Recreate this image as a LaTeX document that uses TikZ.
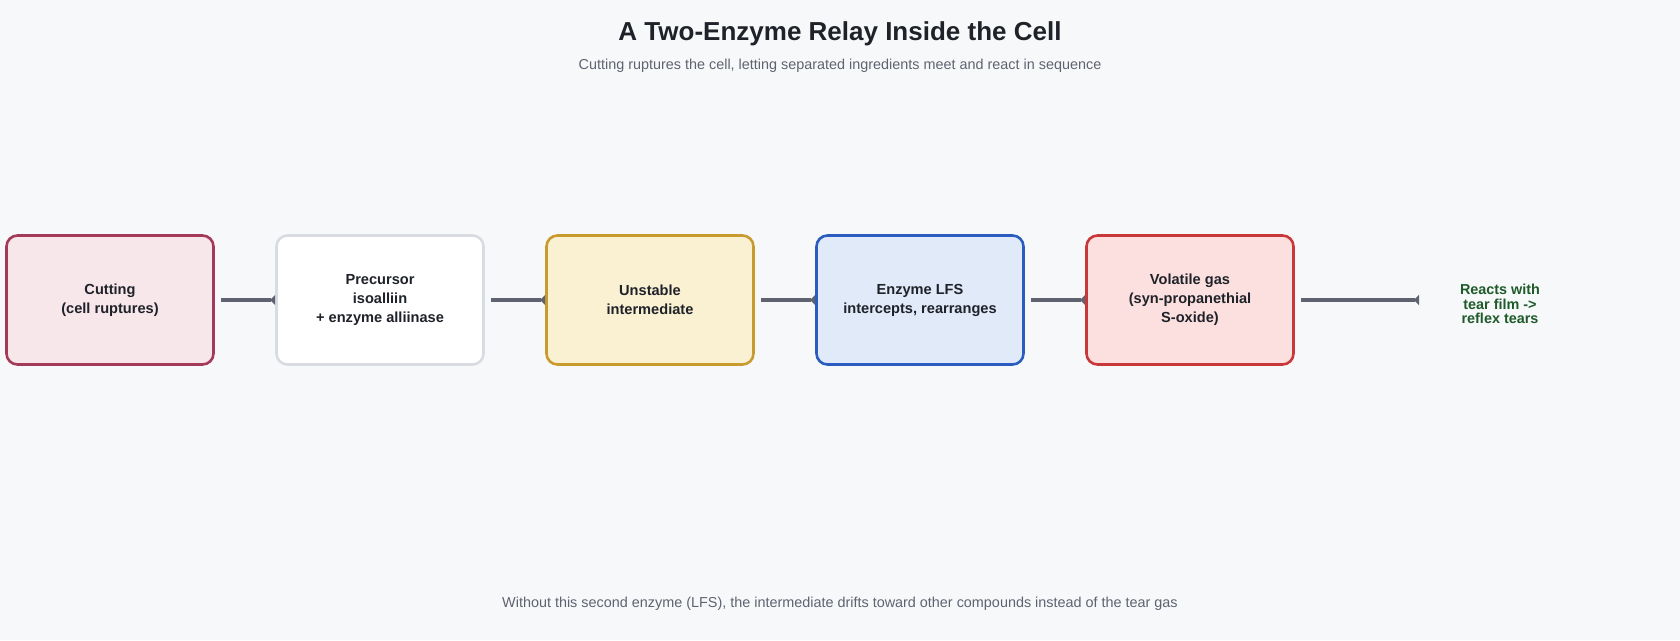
\documentclass[tikz,border=0pt]{standalone}
\usepackage{fontspec}
\setmainfont{Liberation Sans}
\usetikzlibrary{arrows.meta}

\definecolor{pagebg}{HTML}{F7F8FA}
\definecolor{inkdark}{HTML}{1F2229}
\definecolor{inkgray}{HTML}{5F6370}
\definecolor{inkgreen}{HTML}{1E5A2A}
\definecolor{cutline}{HTML}{A33A5A}
\definecolor{cutfill}{HTML}{F7E6EA}
\definecolor{preline}{HTML}{D8DBE2}
\definecolor{midline}{HTML}{C99A2E}
\definecolor{midfill}{HTML}{FAF0D2}
\definecolor{lfsline}{HTML}{2A5DBE}
\definecolor{lfsfill}{HTML}{E1EAF8}
\definecolor{gasline}{HTML}{C8383A}
\definecolor{gasfill}{HTML}{FCE0E0}

\tikzset{
    stage/.style={draw, line width=2.6pt, rounded corners=11pt, minimum width=207pt,
        minimum height=129pt, align=center, text=inkdark,
        font=\fontsize{14.6}{19}\selectfont\bfseries},
    link/.style={draw=inkgray, line width=3.2pt,
        -{Triangle[reversed,length=5pt,width=10pt]}},
}

\begin{document}
\begin{tikzpicture}[x=1pt,y=-1pt]
    \fill [pagebg] (0,0) rectangle (1680,640);
    \useasboundingbox (0,0) rectangle (1680,640);
    \node (title) [font=\fontsize{26}{30}\selectfont\bfseries,text=inkdark] at (840,34) {A Two-Enzyme Relay Inside the Cell};
    \node (subtitle) [font=\fontsize{14.4}{17}\selectfont,text=inkgray] at (840,66) {Cutting ruptures the cell, letting separated ingredients meet and react in sequence};
    \node (cutting) [stage, draw=cutline, fill=cutfill] at (110,300) {Cutting\\(cell ruptures)};
    \node (precursor) [stage, draw=preline, fill=white] at (380,300) {Precursor\\isoalliin\\+ enzyme alliinase};
    \node (unstable) [stage, draw=midline, fill=midfill] at (650,300) {Unstable\\intermediate};
    \node (lfs) [stage, draw=lfsline, fill=lfsfill] at (920,300) {Enzyme LFS\\intercepts, rearranges};
    \node (gas) [stage, draw=gasline, fill=gasfill] at (1190,300) {Volatile gas\\(syn-propanethial\\S-oxide)};
    \node (tears) [align=center, text=inkgreen, font=\fontsize{14.4}{14.5}\selectfont\bfseries] at (1500,304) {Reacts with\\tear film ->\\reflex tears};
    \coordinate (tears_in) at (1419,300);
    \draw [link] ([xshift=6pt]cutting.east) -- (precursor.west);
    \draw [link] ([xshift=6pt]precursor.east) -- (unstable.west);
    \draw [link] ([xshift=6pt]unstable.east) -- (lfs.west);
    \draw [link] ([xshift=6pt]lfs.east) -- (gas.west);
    \draw [link] ([xshift=6pt]gas.east) -- (tears_in);
    \node (footnote) [font=\fontsize{14.4}{17}\selectfont,text=inkgray] at (840,604) {Without this second enzyme (LFS), the intermediate drifts toward other compounds instead of the tear gas};
\end{tikzpicture}
\end{document}
